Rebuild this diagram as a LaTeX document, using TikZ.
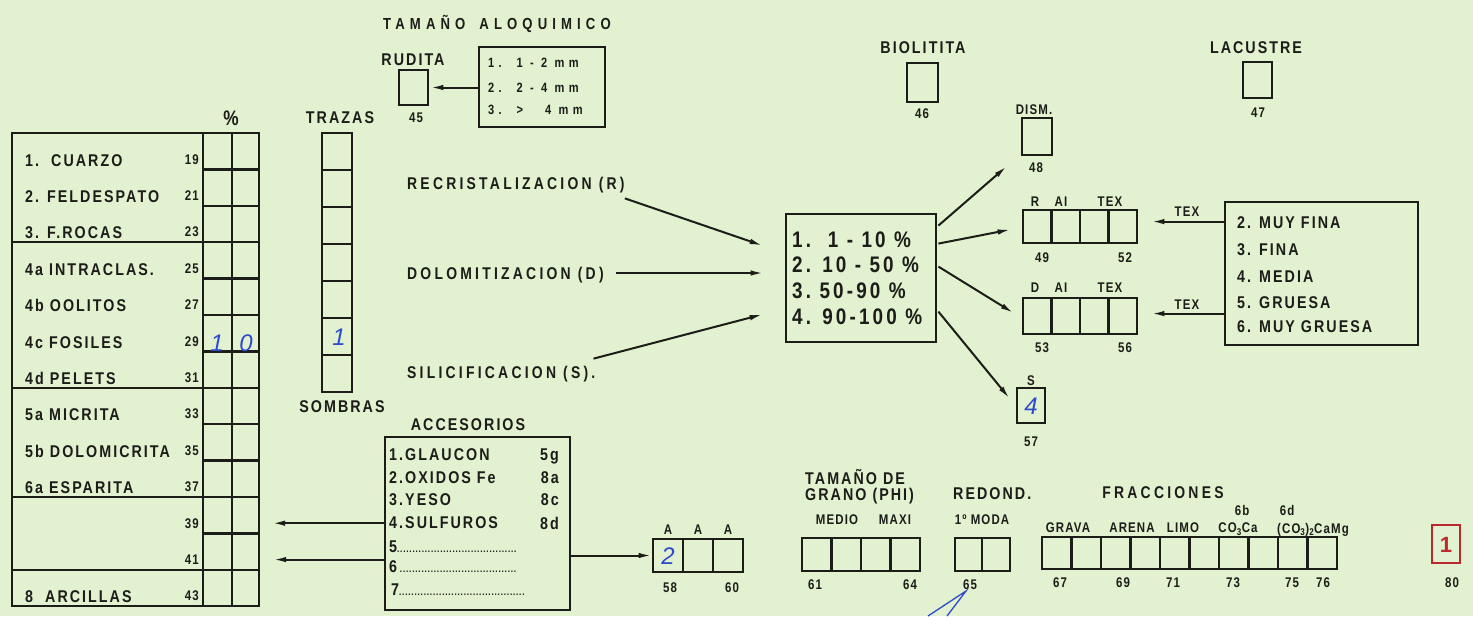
\documentclass[tikz,border=0pt]{standalone}
\usepackage{fontspec}
\usetikzlibrary{arrows.meta,calc}
\newfontfamily\fA{Liberation Sans}[FakeStretch=0.84,LetterSpace=12]
\newfontfamily\fB{Liberation Sans}[FakeStretch=0.82,LetterSpace=19]
\newfontfamily\fW{Liberation Sans}[FakeStretch=0.82,LetterSpace=32]
\newfontfamily\fN{Liberation Sans}[FakeStretch=0.82,LetterSpace=8]
\newfontfamily\fP{Liberation Sans}[FakeStretch=0.84,LetterSpace=14]
\newfontfamily\fH{Liberation Sans}
\newcommand\lab{\fA\bfseries\fontsize{17}{19}\selectfont}
\newcommand\labw{\fB\bfseries\fontsize{17}{19}\selectfont}
\newcommand\smn{\fN\bfseries\fontsize{14}{16}\selectfont}
\newcommand\tinyn{\fN\bfseries\fontsize{14}{16}\selectfont}
\newcommand\rngf{\fW\bfseries\fontsize{13.5}{15}\selectfont}
\newcommand\pctf{\fP\bfseries\fontsize{22.5}{24}\selectfont}
\newcommand\ttlf{\fW\bfseries\fontsize{16}{18}\selectfont}
\newcommand\hnd{\fH\itshape\fontsize{24}{24}\selectfont}
\definecolor{bg}{RGB}{226,241,208}
\definecolor{ink}{RGB}{28,28,24}
\definecolor{pen}{RGB}{45,75,205}
\definecolor{redpen}{RGB}{190,40,45}
\begin{document}
\begin{tikzpicture}[x=1pt,y=-1pt,line join=miter,
  txt/.style={inner sep=0pt,text depth=0pt,text=ink,font=\lab},
  txtw/.style={txt,font=\labw},
  num/.style={txt,font=\smn},
  tnum/.style={txt,font=\tinyn},
  hw/.style={inner sep=0pt,text depth=0pt,text=pen,font=\hnd},
  box/.style={draw=ink,line width=2.8pt,inner sep=0pt},
  grid/.style={draw=ink,line width=2.5pt},
  arr/.style={draw=ink,line width=2pt,-{Latex[length=13pt,width=5.5pt]}}]
\fill[bg] (0,0) rectangle (1473,616);
\useasboundingbox (0,0) rectangle (1473,616);

% ---------------- main table ----------------
\node[box,minimum width=247pt,minimum height=473pt] (tbl) at (135.5,369.5) {};
\draw[grid] (203,133) -- (203,606);
\draw[grid] (232,133) -- (232,606);
\foreach \k in {1,...,12} \draw[grid] (203,{133+\k*36.4}) -- (259,{133+\k*36.4});
\foreach \k in {3,7,10,12} \draw[grid] (12,{133+\k*36.4}) -- (203,{133+\k*36.4});
\foreach \k/\t in {1/{1.\ \ CUARZO},2/{2. FELDESPATO},3/{3. F.ROCAS},4/{4a INTRACLAS.},5/{4b OOLITOS},6/{4c FOSILES},7/{4d PELETS},8/{5a MICRITA},9/{5b DOLOMICRITA},10/{6a ESPARITA},13/{8\ \ ARCILLAS}}
  \node[txt,anchor=west] (lab\k) at (25,{133+(\k-0.5)*36.4+9}) {\t};
\foreach \k/\n in {1/19,2/21,3/23,4/25,5/27,6/29,7/31,8/33,9/35,10/37,11/39,12/41,13/43}
  \node[tnum,anchor=east] (n\n) at (199,{133+(\k-0.5)*36.4+8}) {\n};
\node[inner sep=0pt,minimum width=27pt,minimum height=36pt] (c39) at (245.5,{133+10.5*36.4}) {};
\node[inner sep=0pt,minimum width=27pt,minimum height=36pt] (c41) at (245.5,{133+11.5*36.4}) {};
\node[txt,font=\fN\bfseries\fontsize{21}{22}\selectfont] (pcs) at (231,118) {\%};
\node[hw] (h1) at (217,343) {1};
\node[hw] (h0) at (246,343) {0};

% ---------------- trazas ----------------
\node[txt] (traz) at (340,118) {TRAZAS};
\node[box,minimum width=30pt,minimum height=259pt] (tcol) at (337,262.5) {};
\foreach \k in {1,...,6} \draw[grid] (322,{133+\k*37}) -- (352,{133+\k*37});
\node[hw] (t1) at (339,337) {1};
\node[txt] (somb) at (342,407) {SOMBRAS};

% ---------------- top ----------------
\node[txt,font=\ttlf] (ttl) at (497,22) {TAMAÑO\hspace{14pt}ALOQUIMICO};
\node[txt] (rudl) at (413,60) {RUDITA};
\node[box,minimum width=29pt,minimum height=35pt] (rud) at (413.5,87.5) {};
\node[num] (n45) at (416,118) {45};
\node[box,minimum width=126pt,minimum height=80pt] (rng) at (542,87) {};
\node[txt,font=\rngf,anchor=west] (r1) at (488,63) {1.\ \ 1\ - 2\ mm};
\node[txt,font=\rngf,anchor=west] (r2) at (488,88) {2.\ \ 2\ - 4\ mm};
\node[txt,font=\rngf,anchor=west] (r3) at (488,110) {3.\ \ >\ \ \ 4\ mm};
\draw[arr,shorten >=1pt] (rng.west |- rud.east) -- (rud.east);

\node[txt] (biol) at (923,48) {BIOLITITA};
\node[box,minimum width=31pt,minimum height=39pt] (bio) at (922.5,82.5) {};
\node[num] (n46) at (922,114) {46};
\node[txt] (lacl) at (1256,48) {LACUSTRE};
\node[box,minimum width=29pt,minimum height=36pt] (lac) at (1257.5,80) {};
\node[num] (n47) at (1258,113) {47};
\node[tnum] (disml) at (1034,110) {DISM.};
\node[box,minimum width=30pt,minimum height=37pt] (dism) at (1037,136.5) {};
\node[num] (n48) at (1036,168) {48};

% ---------------- middle ----------------
\node[txtw,anchor=west] (recr) at (407,183) {RECRISTALIZACION (R)};
\node[txtw,anchor=west] (dolo) at (407,273) {DOLOMITIZACION (D)};
\node[txtw,anchor=west] (sili) at (407,372) {SILICIFICACION (S).};
\node[box,minimum width=150pt,minimum height=128pt] (pct) at (861,278) {};
\node[txt,font=\pctf,anchor=west] (p1) at (792,240) {1.\ \ 1 - 10 \%};
\node[txt,font=\pctf,anchor=west] (p2) at (792,265) {2. 10 - 50 \%};
\node[txt,font=\pctf,anchor=west] (p3) at (792,291) {3.\ 50-90\ \%};
\node[txt,font=\pctf,anchor=west] (p4) at (792,317) {4. 90-100 \%};
\draw[arr] ([yshift=-9pt]recr.south east) -- ($(pct.north west)+(-22,33)$);
\draw[arr] ([xshift=12pt]dolo.east) -- ($(pct.west |- dolo.east)+(-21,0)$);
\draw[arr] ([xshift=-2pt,yshift=7pt]sili.north east) -- ($(pct.south west)+(-22,-29)$);

% ---------------- right ----------------
\node[box,minimum width=114pt,minimum height=33pt] (rbox) at (1080,226.5) {};
\foreach \k in {1,2,3} \draw[grid] ({1023+\k*28.5},210) -- ({1023+\k*28.5},243);
\node[tnum] (rR) at (1035,202) {R};
\node[tnum] (rA) at (1061,202) {AI};
\node[tnum] (rT) at (1110,202) {TEX};
\node[tnum] (n49) at (1042,258) {49};
\node[tnum] (n52) at (1125,258) {52};
\node[box,minimum width=114pt,minimum height=36pt] (dbox) at (1080,316) {};
\foreach \k in {1,2,3} \draw[grid] ({1023+\k*28.5},298) -- ({1023+\k*28.5},334);
\node[tnum] (dD) at (1035,288) {D};
\node[tnum] (dA) at (1061,288) {AI};
\node[tnum] (dT) at (1110,288) {TEX};
\node[tnum] (n53) at (1042,348) {53};
\node[tnum] (n56) at (1125,348) {56};
\node[tnum] (sl) at (1031,381) {S};
\node[box,minimum width=28pt,minimum height=35pt] (sbox) at (1031,405.5) {};
\node[hw] (s4) at (1031,406) {4};
\node[tnum] (n57) at (1031,442) {57};
\draw[arr] ($(pct.north east)+(1,13)$) -- ($(dism.south west)+(-14,10)$);
\draw[arr] ($(pct.north east)+(1,31)$) -- ($(rbox.west)+(-11,3)$);
\draw[arr] ($(pct.north east)+(1,54)$) -- ($(dbox.west)+(-8,-3)$);
\draw[arr] ($(pct.north east)+(1,99)$) -- ($(sbox.west)+(-6,-7)$);

\node[box,minimum width=193pt,minimum height=143pt] (lst) at (1321.5,273.5) {};
\node[txt,anchor=west] (l2) at (1237,223) {2. MUY FINA};
\node[txt,anchor=west] (l3) at (1237,250) {3. FINA};
\node[txt,anchor=west] (l4) at (1237,277) {4. MEDIA};
\node[txt,anchor=west] (l5) at (1237,303) {5. GRUESA};
\node[txt,anchor=west] (l6) at (1237,327) {6. MUY GRUESA};
\draw[arr] ($(lst.north west)+(0,21)$) -- ($(rbox.north east)+(13,13)$);
\node[tnum] (tx1) at (1187,212) {TEX};
\draw[arr] ($(lst.north west)+(0,113)$) -- ($(dbox.north east)+(13,17)$);
\node[tnum] (tx2) at (1187,305) {TEX};

% ---------------- accesorios ----------------
\node[txt] (accl) at (468,425) {ACCESORIOS};
\node[box,minimum width=185pt,minimum height=173pt] (acc) at (477.5,523.5) {};
\foreach \y/\t/\c/\nm in {455/{1.GLAUCON}/5g/1,478/{2.OXIDOS Fe}/8a/2,500/{3.YESO}/8c/3,523/{4.SULFUROS}/8d/4}{
  \node[txt,anchor=west] (ac\nm) at (389,\y) {\t};
  \node[txt,anchor=east] (cd\nm) at (559,\y) {\c};
}
\node[txt,anchor=west] (ac5) at (389,547) {5{\fN\fontsize{10}{10}\selectfont .......................................}};
\node[txt,anchor=west] (ac6) at (389,567) {6\,{\fN\fontsize{10}{10}\selectfont ......................................}};
\node[txt,anchor=west] (ac7) at (391,590) {7{\fN\fontsize{10}{10}\selectfont .........................................}};
\draw[arr] (acc.west |- n39) -- ($(c39.east |- n39)+(13,0)$);
\draw[arr] (acc.west |- n41) -- ($(c41.east |- n41)+(14,0)$);

\node[box,minimum width=90pt,minimum height=33pt] (abox) at (698,555.5) {};
\draw[grid] (683,539) -- (683,572);
\draw[grid] (713,539) -- (713,572);
\draw[arr] (acc.east |- abox.west) -- (abox.west);
\node[tnum] (aA1) at (668,530) {A};
\node[tnum] (aA2) at (698,530) {A};
\node[tnum] (aA3) at (728,530) {A};
\node[tnum] (n58) at (670,588) {58};
\node[tnum] (n60) at (732,588) {60};
\node[hw] (a2h) at (668,556) {2};

% ---------------- tamaño de grano ----------------
\node[txt,anchor=west] (tg1) at (805,477) {TAMAÑO DE};
\node[txt,anchor=west] (tg2) at (805,494) {GRANO (PHI)};
\node[txt,anchor=west] (redl) at (953,494) {REDOND.};
\node[tnum] (med) at (837,520) {MEDIO};
\node[tnum] (maxl) at (895,520) {MAXI};
\node[box,minimum width=118pt,minimum height=33pt] (gbox) at (861,554.5) {};
\foreach \k in {1,2,3} \draw[grid] ({802+\k*29.5},538) -- ({802+\k*29.5},571);
\node[tnum] (n61) at (815,585) {61};
\node[tnum] (n64) at (910,585) {64};
\node[tnum] (moda) at (982,520) {1º MODA};
\node[box,minimum width=55pt,minimum height=33pt] (rdbox) at (982.5,554.5) {};
\draw[grid] (982,538) -- (982,571);
\node[tnum] (n65) at (970,585) {65};
\draw[pen,line width=1.3pt] (928,616) -- (966,591) -- (947,616);

% ---------------- fracciones ----------------
\node[txtw] (frac) at (1163,493) {FRACCIONES};
\node[tnum] (f6b) at (1242,510) {6b};
\node[tnum] (f6d) at (1287,510) {6d};
\node[tnum] (fgr) at (1068,528) {GRAVA};
\node[tnum] (far) at (1132,528) {ARENA};
\node[tnum] (fli) at (1183,528) {LIMO};
\node[tnum] (fco) at (1238,528) {CO\textsubscript{3}Ca};
\node[tnum] (fcm) at (1313,528) {(CO\textsubscript{3})\textsubscript{2}CaMg};
\node[box,minimum width=295pt,minimum height=32pt] (fbox) at (1189.5,553) {};
\foreach \k in {1,...,9} \draw[grid] ({1042+\k*29.5},537) -- ({1042+\k*29.5},569);
\foreach \x/\n in {1060/67,1123/69,1173/71,1233/73,1292/75,1323/76}
  \node[tnum] (n\n) at (\x,583) {\n};

\node[box,draw=redpen,minimum width=28pt,minimum height=38pt] (redb) at (1446,544) {};
\node[inner sep=0pt,text depth=0pt,text=redpen,font=\fH\bfseries\fontsize{22}{22}\selectfont] (r1h) at (1446,545) {1};
\node[tnum] (n80) at (1452,583) {80};
\end{tikzpicture}
\end{document}
